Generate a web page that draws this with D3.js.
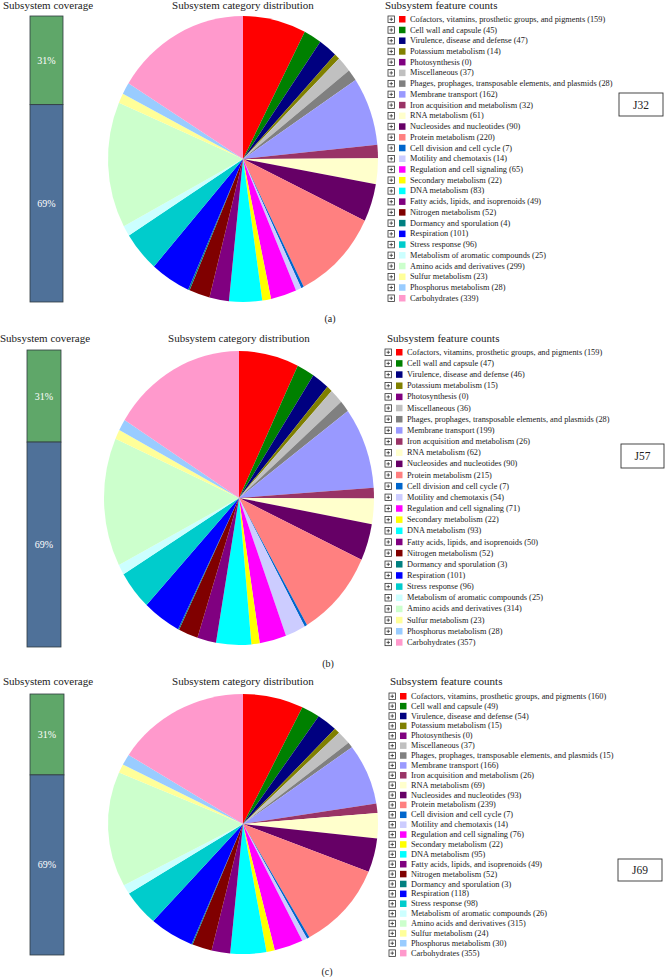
<!DOCTYPE html>
<html>
<head>
<meta charset="utf-8">
<script src="https://cdn.jsdelivr.net/npm/d3@7"></script>
<style>
  body { margin: 0; background: #fff; }
  text { font-family: "Liberation Serif", "DejaVu Serif", serif; fill: #222; }
  .pct { fill: #fff; }
</style>
</head>
<body>
<svg id="chart" width="665" height="977"></svg>
<script>

////////////////////////// DATA //////////////////////////

const categories = [
  'Cofactors, vitamins, prosthetic groups, and pigments',
  'Cell wall and capsule',
  'Virulence, disease and defense',
  'Potassium metabolism',
  'Photosynthesis',
  'Miscellaneous',
  'Phages, prophages, transposable elements, and plasmids',
  'Membrane transport',
  'Iron acquisition and metabolism',
  'RNA metabolism',
  'Nucleosides and nucleotides',
  'Protein metabolism',
  'Cell division and cell cycle',
  'Motility and chemotaxis',
  'Regulation and cell signaling',
  'Secondary metabolism',
  'DNA metabolism',
  'Fatty acids, lipids, and isoprenoids',
  'Nitrogen metabolism',
  'Dormancy and sporulation',
  'Respiration',
  'Stress response',
  'Metabolism of aromatic compounds',
  'Amino acids and derivatives',
  'Sulfur metabolism',
  'Phosphorus metabolism',
  'Carbohydrates'
]

const categoryColors = [
  '#ff0000', '#008000', '#000080', '#808000', '#800080', '#c0c0c0', '#808080',
  '#9999ff', '#993366', '#ffffcc', '#660066', '#ff8080', '#0066cc', '#ccccff',
  '#ff00ff', '#ffff00', '#00ffff', '#800080', '#800000', '#008080', '#0000ff',
  '#00cccc', '#ccffff', '#ccffcc', '#ffff99', '#99ccff', '#ff99cc'
]

const countsJ32 = [159, 45, 47, 14, 0, 37, 28, 162, 32, 61, 90, 220, 7, 14, 65, 22, 83, 49, 52, 4, 101, 96, 25, 299, 23, 28, 339]
const countsJ57 = [159, 47, 46, 15, 0, 36, 28, 199, 26, 62, 90, 215, 7, 54, 71, 22, 93, 50, 52, 3, 101, 96, 25, 314, 23, 28, 357]
const countsJ69 = [160, 49, 54, 15, 0, 37, 15, 166, 26, 69, 93, 239, 7, 14, 76, 22, 95, 49, 52, 3, 118, 98, 26, 315, 24, 30, 355]

const strains = ['J32', 'J57', 'J69']
const panelTags = ['(a)', '(b)', '(c)']
const coverageParts = ['in subsystem', 'not in subsystem']
const coverageJ32 = [31, 69]
const coverageJ57 = [31, 69]
const coverageJ69 = [31, 69]
const coverageColors = ['#5fa769', '#4f7199']

////////////////////////// LAYOUT //////////////////////////

// each panel was placed a little differently in the figure
const layouts = [
  { top: 9,   bar: [30, 63, 16, 302],  pie: [243, 159, 135, 143], rows: [388, 19, 10.73],
    box: [619, 93, 44, 23],  tag: [330, 322], covX: 3, legX: 385 },
  { top: 342, bar: [27, 61, 350, 647], pie: [239, 498, 135, 147], rows: [385, 352, 11.16],
    box: [621, 444, 43, 24], tag: [328, 667], covX: 0, legX: 387 },
  { top: 685, bar: [30, 64, 694, 955], pie: [243, 824, 135, 130], rows: [389, 696, 9.88],
    box: [618, 859, 44, 22], tag: [327, 975], covX: 3, legX: 390 }
]

const panels = [
  { strain: strains[0], tag: panelTags[0], counts: countsJ32, coverage: coverageJ32 },
  { strain: strains[1], tag: panelTags[1], counts: countsJ57, coverage: coverageJ57 },
  { strain: strains[2], tag: panelTags[2], counts: countsJ69, coverage: coverageJ69 }
]

const svg = d3.select('#chart')

////////////////////////// DRAW //////////////////////////

const drawPanel = (panel, lay) => {
  const g = svg.append('g')

  // titles
  g.append('text').attr('x', lay.covX).attr('y', lay.top)
    .attr('font-size', 11).text('Subsystem coverage')
  g.append('text').attr('x', lay.pie[0]).attr('y', lay.top)
    .attr('text-anchor', 'middle').attr('font-size', 11).text('Subsystem category distribution')
  g.append('text').attr('x', lay.legX).attr('y', lay.top)
    .attr('font-size', 11).text('Subsystem feature counts')

  // coverage bar (stacked)
  const [bx0, bx1, by0, by1] = lay.bar
  const yCov = d3.scaleLinear().domain([0, d3.sum(panel.coverage)]).range([by0, by1])
  const stacked = d3.cumsum(panel.coverage)
  const covData = panel.coverage.map((v, i) => ({ key: coverageParts[i], v, start: stacked[i] - v, end: stacked[i] }))

  g.selectAll('.cov')
    .data(covData)
    .enter()
    .append('rect')
    .attr('x', bx0)
    .attr('width', bx1 - bx0)
    .attr('y', (d) => yCov(d.start))
    .attr('height', (d) => yCov(d.end) - yCov(d.start))
    .style('fill', (d, i) => coverageColors[i])
    .style('stroke', '#2f3a3f')
    .style('stroke-width', 0.8)

  g.selectAll('.pct')
    .data(covData)
    .enter()
    .append('text')
    .attr('class', 'pct')
    .attr('x', (bx0 + bx1) / 2)
    .attr('y', (d) => (yCov(d.start) + yCov(d.end)) / 2 + 3.5)
    .attr('text-anchor', 'middle')
    .attr('font-size', 10)
    .text((d) => `${d.v}%`)

  // pie, slightly squashed like the source figure
  const [cx, cy, rx, ry] = lay.pie
  const pie = d3.pie().sort(null).value((d) => d)
  const arc = d3.arc().innerRadius(0).outerRadius(ry)
  g.append('g')
    .attr('transform', `translate(${cx},${cy}) scale(${rx / ry},1)`)
    .selectAll('path')
    .data(pie(panel.counts))
    .enter()
    .append('path')
    .attr('d', arc)
    .style('fill', (d, i) => categoryColors[i])

  // legend rows
  const [lx, ly0, step] = lay.rows
  const yRow = d3.scaleLinear().domain([0, 1]).range([ly0, ly0 + step])
  const rows = g.selectAll('.row')
    .data(categories)
    .enter()
    .append('g')
    .attr('transform', (d, i) => `translate(${lx},${yRow(i)})`)

  // little expand box
  rows.append('rect')
    .attr('x', 0).attr('y', -3).attr('width', 6.5).attr('height', 6.5)
    .style('fill', '#fff').style('stroke', '#333').style('stroke-width', 0.8)
  rows.append('path')
    .attr('d', 'M1.5,0.25H5M3.25,-1.5V2')
    .style('stroke', '#333').style('stroke-width', 0.8)

  rows.append('rect')
    .attr('x', 11).attr('y', -3).attr('width', 6.5).attr('height', 6.5)
    .style('fill', (d, i) => categoryColors[i])

  rows.append('text')
    .attr('x', 22).attr('y', 2.8)
    .attr('font-size', 8.3)
    .text((d, i) => `${d} (${panel.counts[i]})`)

  // strain label box
  const [kx, ky, kw, kh] = lay.box
  g.append('rect')
    .attr('x', kx).attr('y', ky).attr('width', kw).attr('height', kh)
    .style('fill', '#fff').style('stroke', '#333').style('stroke-width', 0.9)
  g.append('text')
    .attr('x', kx + kw / 2).attr('y', ky + kh / 2 + 4)
    .attr('text-anchor', 'middle').attr('font-size', 11.5)
    .text(panel.strain)

  // panel tag
  g.append('text')
    .attr('x', lay.tag[0]).attr('y', lay.tag[1])
    .attr('text-anchor', 'middle').attr('font-size', 10)
    .text(panel.tag)
}

panels.forEach((p, i) => drawPanel(p, layouts[i]))

</script>
</body>
</html>
